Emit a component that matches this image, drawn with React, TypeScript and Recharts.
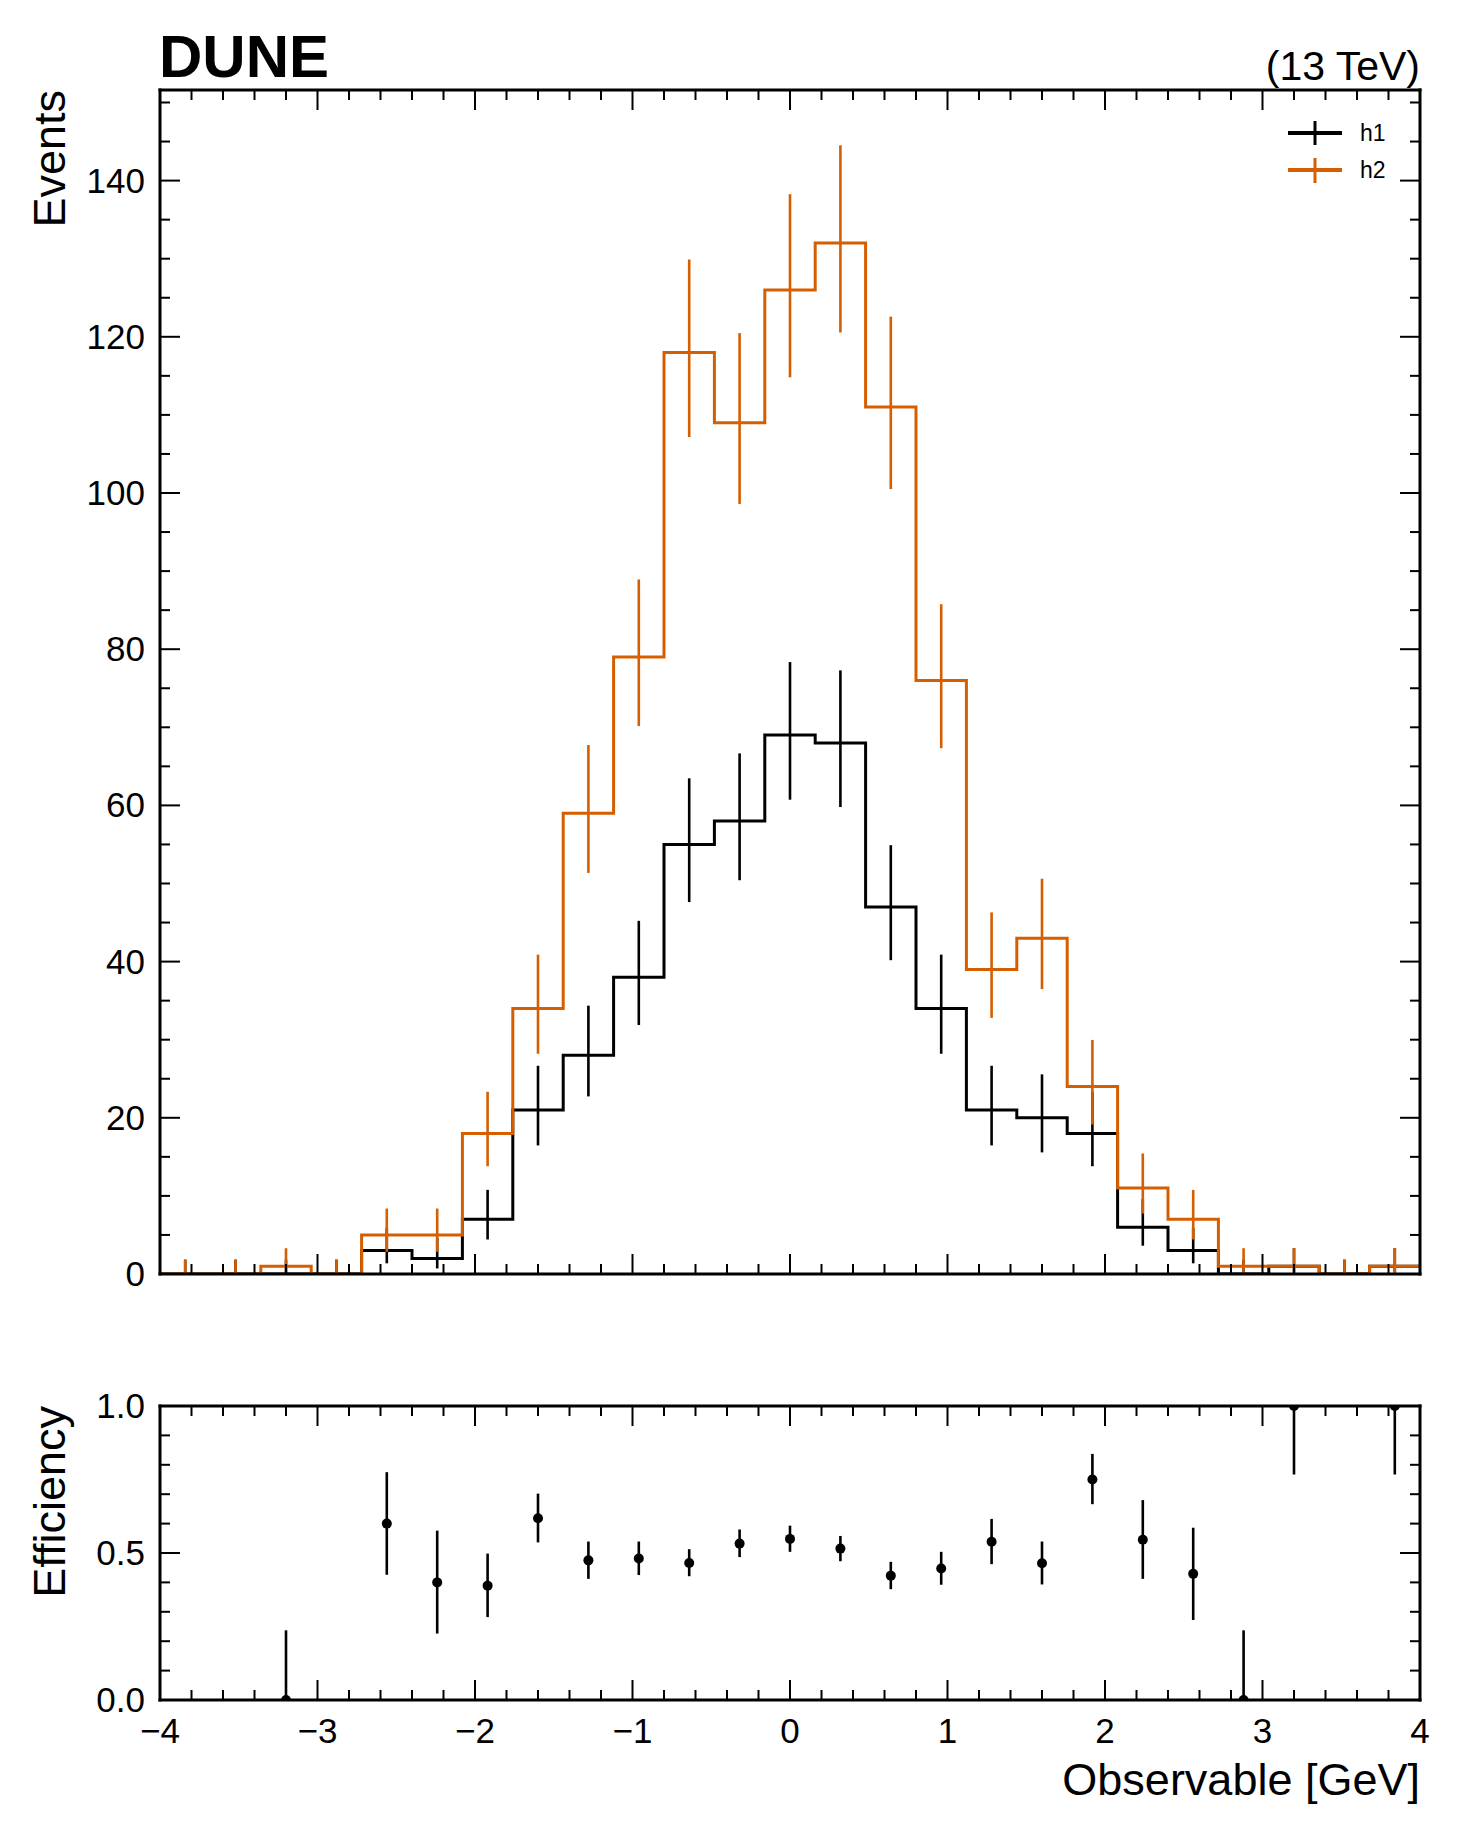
import React from 'react';
import { ComposedChart, Line, Scatter, ErrorBar, XAxis, YAxis } from 'recharts';

// bin edges of the 25-bin histograms (GeV)
const binEdges = [
  -4, -3.68, -3.36, -3.04, -2.72, -2.4, -2.08, -1.76, -1.44, -1.12, -0.8, -0.48, -0.16,
  0.16, 0.48, 0.8, 1.12, 1.44, 1.76, 2.08, 2.4, 2.72, 3.04, 3.36, 3.68, 4,
];

const h1Counts = [0, 0, 0, 0, 3, 2, 7, 21, 28, 38, 55, 58, 69, 68, 47, 34, 21, 20, 18, 6, 3, 0, 1, 0, 1];
const h2Counts = [0, 0, 1, 0, 5, 5, 18, 34, 59, 79, 118, 109, 126, 132, 111, 76, 39, 43, 24, 11, 7, 1, 1, 0, 1];

// poisson (garwood) error bars
const h1ErrLow = [0, 0, 0, 0, 1.63, 1.29, 2.58, 4.54, 5.26, 6.12, 7.38, 7.58, 8.27, 8.21, 6.82, 5.8, 4.54, 4.43, 4.2, 2.38, 1.63, 0, 0.83, 0, 0.83];
const h1ErrHigh = [1.84, 1.84, 1.84, 1.84, 2.92, 2.64, 3.77, 5.66, 6.36, 7.22, 8.47, 8.66, 9.35, 9.29, 7.91, 6.89, 5.66, 5.56, 5.33, 3.58, 2.92, 1.84, 2.3, 1.84, 2.3];
const h2ErrLow = [0, 0, 0.83, 0, 2.16, 2.16, 4.2, 5.8, 7.64, 8.85, 10.83, 10.4, 11.19, 11.45, 10.5, 8.68, 6.2, 6.52, 4.86, 3.26, 2.58, 0.83, 0.83, 0, 0.83];
const h2ErrHigh = [1.84, 1.84, 2.3, 1.84, 3.38, 3.38, 5.33, 6.89, 8.73, 9.93, 11.9, 11.48, 12.26, 12.52, 11.58, 9.76, 7.3, 7.61, 5.97, 4.43, 3.77, 2.3, 2.3, 1.84, 2.3];

// efficiency h1/h2 (only bins with h2 > 0)
const effCenters = [-3.2, -2.56, -2.24, -1.92, -1.6, -1.28, -0.96, -0.64, -0.32, 0, 0.32, 0.64, 0.96, 1.28, 1.6, 1.92, 2.24, 2.56, 2.88, 3.2, 3.84];
const effValues = [0, 0.6, 0.4, 0.389, 0.618, 0.475, 0.481, 0.466, 0.532, 0.548, 0.515, 0.423, 0.447, 0.538, 0.465, 0.75, 0.545, 0.429, 0, 1, 1];
const effErrLow = [0, 0.174, 0.174, 0.107, 0.082, 0.063, 0.056, 0.045, 0.046, 0.044, 0.043, 0.046, 0.055, 0.076, 0.072, 0.084, 0.133, 0.157, 0, 0.233, 0.233];
const effErrHigh = [0.237, 0.175, 0.176, 0.109, 0.084, 0.064, 0.058, 0.047, 0.048, 0.045, 0.043, 0.047, 0.057, 0.078, 0.074, 0.087, 0.135, 0.157, 0.237, 0, 0];

const xMajorTicks = [-4, -3, -2, -1, 0, 1, 2, 3, 4];
const mainYMajorTicks = [0, 20, 40, 60, 80, 100, 120, 140];
const effYMajorTicks = [0, 0.5, 1];

const ORANGE = '#D55E00';
const FONT = '"Liberation Sans", Arial, Helvetica, sans-serif';
const W = 1461;

// minor tick grids
const xTicks = Array.from({ length: 41 }, (_, i) => Math.round((-4 + 0.2 * i) * 10) / 10);
const mainYTicks = Array.from({ length: 31 }, (_, i) => i * 5);
const effYTicks = Array.from({ length: 11 }, (_, i) => i / 10);

const centers = binEdges.slice(0, -1).map((e, i) => (e + binEdges[i + 1]) / 2);

const stepData = binEdges.map((x, i) => {
  const k = Math.min(i, h1Counts.length - 1);
  return { x, h1: h1Counts[k], h2: h2Counts[k] };
});
const h1ErrData = h1Counts.map((y, i) => ({ x: centers[i], y, err: [h1ErrLow[i], h1ErrHigh[i]] }));
const h2ErrData = h2Counts.map((y, i) => ({ x: centers[i], y, err: [h2ErrLow[i], h2ErrHigh[i]] }));
const effData = effValues.map((y, i) => ({ x: effCenters[i], y, err: [effErrLow[i], effErrHigh[i]] }));

const isMajor = (v: number, majors: number[]) => majors.some((m) => Math.abs(m - v) < 1e-6);
const fmtMinus = (s: string) => s.replace('-', '\u2212');

const axisLine = { stroke: '#000', strokeWidth: 3, strokeLinecap: 'square' as const };

const XTick = (props: any) => {
  const { x, y, payload, side, labels } = props;
  const major = isMajor(payload.value, xMajorTicks);
  const len = major ? 20 : 10;
  const dir = side === 'top' ? 1 : -1;
  return (
    <g>
      <line x1={x} y1={y} x2={x} y2={y + dir * len} stroke="#000" strokeWidth={2} />
      {labels && major && (
        <text x={x} y={y + 43} textAnchor="middle" fontSize={35} fontFamily={FONT} fill="#000">
          {fmtMinus(String(payload.value))}
        </text>
      )}
    </g>
  );
};

const YTick = (props: any) => {
  const { x, y, payload, side, majors, labels, fmt } = props;
  const major = isMajor(payload.value, majors);
  const len = major ? 20 : 10;
  const dir = side === 'right' ? -1 : 1;
  return (
    <g>
      <line x1={x} y1={y} x2={x + dir * len} y2={y} stroke="#000" strokeWidth={2} />
      {labels && major && (
        <text x={x - 15} y={y + 12} textAnchor="end" fontSize={35} fontFamily={FONT} fill="#000">
          {fmt(payload.value)}
        </text>
      )}
    </g>
  );
};

const noShape = () => <g />;

// four axes drawing the closed frame with inward ticks
const Frame = ({ yTicks, yMajors, yDomain, fmt, xLabels }: any) => [
  <XAxis
    key="xb"
    type="number"
    dataKey="x"
    domain={[-4, 4]}
    ticks={xTicks}
    interval={0}
    allowDataOverflow
    height={1}
    tickSize={0}
    tickMargin={0}
    tickLine={false}
    axisLine={axisLine}
    tick={(p: any) => <XTick {...p} side="bottom" labels={xLabels} />}
  />,
  <XAxis
    key="xt"
    xAxisId="top"
    orientation="top"
    type="number"
    dataKey="x"
    domain={[-4, 4]}
    ticks={xTicks}
    interval={0}
    allowDataOverflow
    height={1}
    tickSize={0}
    tickMargin={0}
    tickLine={false}
    axisLine={axisLine}
    tick={(p: any) => <XTick {...p} side="top" labels={false} />}
  />,
  <YAxis
    key="yl"
    type="number"
    domain={yDomain}
    ticks={yTicks}
    interval={0}
    allowDataOverflow
    width={1}
    tickSize={0}
    tickMargin={0}
    tickLine={false}
    axisLine={axisLine}
    tick={(p: any) => <YTick {...p} side="left" majors={yMajors} labels fmt={fmt} />}
  />,
  <YAxis
    key="yr"
    yAxisId="right"
    orientation="right"
    type="number"
    domain={yDomain}
    ticks={yTicks}
    interval={0}
    allowDataOverflow
    width={1}
    tickSize={0}
    tickMargin={0}
    tickLine={false}
    axisLine={axisLine}
    tick={(p: any) => <YTick {...p} side="right" majors={yMajors} labels={false} fmt={fmt} />}
  />,
];

const App: React.FC = () => {
  return (
    <div style={{ position: 'absolute', left: 0, top: 0, width: W, height: 1836, background: '#fff' }}>
      <div style={{ position: 'absolute', left: 0, top: 0 }}>
        <ComposedChart width={W} height={1320} margin={{ top: 89, right: 40, bottom: 45, left: 159 }}>
          {Frame({ yTicks: mainYTicks, yMajors: mainYMajorTicks, yDomain: [0, 151.6], fmt: (v: number) => String(v), xLabels: false })}
          <Line data={stepData} dataKey="h1" type="stepAfter" stroke="#000" strokeWidth={3} dot={false} isAnimationActive={false} />
          <Scatter data={h1ErrData} dataKey="y" shape={noShape} isAnimationActive={false}>
            <ErrorBar dataKey="err" direction="y" width={0} stroke="#000" strokeWidth={2.6} />
          </Scatter>
          <Line data={stepData} dataKey="h2" type="stepAfter" stroke={ORANGE} strokeWidth={3} dot={false} isAnimationActive={false} />
          <Scatter data={h2ErrData} dataKey="y" shape={noShape} isAnimationActive={false}>
            <ErrorBar dataKey="err" direction="y" width={0} stroke={ORANGE} strokeWidth={2.6} />
          </Scatter>
        </ComposedChart>
      </div>
      <div style={{ position: 'absolute', left: 0, top: 1350 }}>
        <ComposedChart width={W} height={486} margin={{ top: 55, right: 40, bottom: 135, left: 159 }}>
          {Frame({ yTicks: effYTicks, yMajors: effYMajorTicks, yDomain: [0, 1], fmt: (v: number) => v.toFixed(1), xLabels: true })}
          <Scatter
            data={effData}
            dataKey="y"
            fill="#000"
            isAnimationActive={false}
            shape={(p: any) => <circle cx={p.cx} cy={p.cy} r={5} fill="#000" />}
          >
            <ErrorBar dataKey="err" direction="y" width={0} stroke="#000" strokeWidth={2.6} />
          </Scatter>
        </ComposedChart>
      </div>
      <svg
        width={W}
        height={1836}
        style={{ position: 'absolute', left: 0, top: 0, pointerEvents: 'none' }}
        fontFamily={FONT}
      >
        <text x={159} y={77} fontSize={60} fontWeight="bold" fill="#000">DUNE</text>
        <text x={1420} y={80} fontSize={41} textAnchor="end" fill="#000">(13 TeV)</text>
        <text transform="translate(65,90) rotate(-90)" fontSize={45} textAnchor="end" fill="#000">Events</text>
        <text transform="translate(65,1406) rotate(-90)" fontSize={45} textAnchor="end" fill="#000">Efficiency</text>
        <text x={1420} y={1795} fontSize={45} textAnchor="end" fill="#000">Observable [GeV]</text>
        {/* legend */}
        <line x1={1288} y1={133} x2={1342} y2={133} stroke="#000" strokeWidth={4} />
        <line x1={1315} y1={121} x2={1315} y2={145} stroke="#000" strokeWidth={3} />
        <text x={1360} y={141} fontSize={23} fill="#000">h1</text>
        <line x1={1288} y1={170} x2={1342} y2={170} stroke={ORANGE} strokeWidth={4} />
        <line x1={1315} y1={158} x2={1315} y2={183} stroke={ORANGE} strokeWidth={3} />
        <text x={1360} y={178} fontSize={23} fill="#000">h2</text>
      </svg>
    </div>
  );
};

export default App;
